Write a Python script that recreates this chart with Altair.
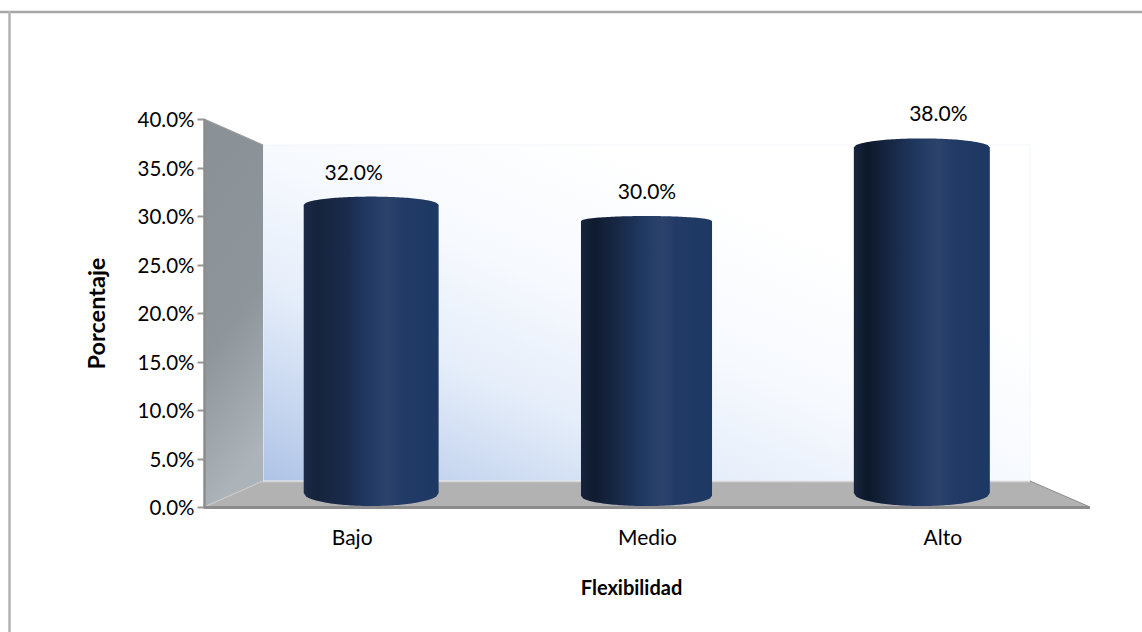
import math
import altair as alt
import pandas as pd

# Survey results
categories = ["Bajo", "Medio", "Alto"]
percentages = [32.0, 30.0, 38.0]
y_ticks = [0, 5, 10, 15, 20, 25, 30, 35, 40]

FONT = "Lato"
W, H = 886, 388
LEFT, TOP = 204, 119

# Category positions along the floor front; the cylinders stand further back,
# so perspective pulls them towards the middle
X_SCALE = alt.Scale(domain=[-0.5, 2.5], range=[0, W])
CYL_SCALE = alt.Scale(domain=[-0.5, 2.5], range=[29.5, 855.5])
Y_SCALE = alt.Scale(domain=[0, 40], range=[H, 0])

# Cylinder proportions, expressed in axis units
half_widths = [0.245, 0.238, 0.247]
cap_drops = [0.85, 0.52, 0.93]
base_edges = [1.45, 1.15, 1.45]
label_nudges = [2, 0, -4]
left_tones = [("#1b2a47", "#16233c"), ("#15233c", "#0f1b2e"), ("#16253f", "#0d1829")]


def cylinder_outline(idx, value, half, cap, edge):
    rows = []
    for k in range(-30, 31):
        u = k / 30
        arc = math.sqrt(max(1 - u * u, 0))
        rows.append({
            "x": idx + u * half,
            "top": value - cap * (1 - arc),
            "bottom": edge - (edge - 0.1) * arc,
        })
    return pd.DataFrame(rows)


def cylinder_fill(edge_tone, dark_tone):
    return alt.Gradient(
        gradient="linear", x1=0, y1=0, x2=1, y2=0,
        stops=[
            alt.GradientStop(color=edge_tone, offset=0),
            alt.GradientStop(color=dark_tone, offset=0.10),
            alt.GradientStop(color="#1a2b4c", offset=0.32),
            alt.GradientStop(color="#213a63", offset=0.48),
            alt.GradientStop(color="#2c426b", offset=0.62),
            alt.GradientStop(color="#213a66", offset=0.74),
            alt.GradientStop(color="#1e3864", offset=1),
        ],
    )


px_x = alt.X("x:Q", scale=None, axis=None)
px_y = alt.Y("y:Q", scale=None, axis=None)
px_y2 = alt.Y2("y2:Q")

# Outer frame, only the top and left edges show
frame_top = alt.Chart(pd.DataFrame({"x": [-LEFT], "x2": [W + 52], "y": [12 - TOP]})).mark_rule(
    color="#a6a6a6", strokeWidth=2.5
).encode(x=px_x, x2="x2:Q", y=px_y)
frame_left = alt.Chart(pd.DataFrame({"x": [9.5 - LEFT], "y": [11 - TOP], "y2": [632 - TOP]})).mark_rule(
    color="#b3b3b3", strokeWidth=2.5
).encode(x=px_x, y=px_y, y2=px_y2)

# Back wall with a soft blue glow in the lower-left corner
back_wall = alt.Chart(pd.DataFrame({"x": [59], "x2": [826], "y": [26], "y2": [362]})).mark_rect(
    fill=alt.Gradient(
        gradient="linear", x1=0, y1=1, x2=1, y2=0,
        stops=[
            alt.GradientStop(color="#aec3e6", offset=0),
            alt.GradientStop(color="#c9d8f0", offset=0.14),
            alt.GradientStop(color="#e6eefa", offset=0.30),
            alt.GradientStop(color="#f6f9fe", offset=0.48),
            alt.GradientStop(color="#ffffff", offset=0.72),
        ],
    ),
    stroke="#f3f5f8",
    strokeWidth=1,
).encode(x=px_x, x2="x2:Q", y=px_y, y2=px_y2)

# Side wall, a slanted panel joining the axis and the back wall
side_wall = alt.Chart(pd.DataFrame({"x": [0, 59], "y": [0, 26], "y2": [H, 362]})).mark_area(
    fill=alt.Gradient(
        gradient="linear", x1=0, y1=0, x2=0.2, y2=1,
        stops=[
            alt.GradientStop(color="#899197", offset=0),
            alt.GradientStop(color="#8e969c", offset=0.6),
            alt.GradientStop(color="#acb4b9", offset=1),
        ],
    ),
).encode(x=px_x, y=alt.Y("y:Q", scale=None, axis=None, stack=None), y2=px_y2)

# Floor of the chart
floor = alt.Chart(pd.DataFrame({"x": [0, 59, 826, 886], "y": [H, 362, 362, H], "y2": [H, H, H, H]})).mark_area(
    color="#b2b2b2"
).encode(x=px_x, y=alt.Y("y:Q", scale=None, axis=None, stack=None), y2=px_y2)
floor_edge = alt.Chart(pd.DataFrame({"x": [59, 0], "y": [362, H]})).mark_line(
    color="#c8cbce", strokeWidth=1.2
).encode(x=px_x, y=px_y, order=alt.Order("y:Q"))
floor_back = alt.Chart(pd.DataFrame({"x": [59], "x2": [826], "y": [362.5]})).mark_rule(
    color="#d6d6d6", strokeWidth=1.5
).encode(x=px_x, x2="x2:Q", y=px_y)
floor_slope = alt.Chart(pd.DataFrame({"x": [826, 886], "y": [362, H]})).mark_line(
    color="#8c8c8c", strokeWidth=1
).encode(x=px_x, y=px_y)
wall_top = alt.Chart(pd.DataFrame({"x": [0, 59], "y": [0, 26]})).mark_line(
    color="#9a9a9a", strokeWidth=1.2
).encode(x=px_x, y=px_y)
base_line = alt.Chart(pd.DataFrame({"x": [0], "x2": [886], "y": [H + 0.5]})).mark_rule(
    color="#8c8c8c", strokeWidth=3
).encode(x=px_x, x2="x2:Q", y=px_y)

# One cylinder per category, its height driven by the percentage
cylinders = []
for i, value in enumerate(percentages):
    outline = cylinder_outline(i, value, half_widths[i], cap_drops[i], base_edges[i])
    cylinders.append(
        alt.Chart(outline).mark_area(fill=cylinder_fill(*left_tones[i])).encode(
            x=alt.X("x:Q", scale=CYL_SCALE, axis=None),
            y=alt.Y("top:Q", scale=Y_SCALE, axis=None, stack=None),
            y2="bottom:Q",
        )
    )

# Value labels above each cylinder
labels = []
for i, value in enumerate(percentages):
    labels.append(
        alt.Chart(pd.DataFrame({"x": [i], "v": [value]}))
        .transform_calculate(t="format(datum.v, '.1f') + '%'")
        .mark_text(
            font=FONT, fontSize=21, color="#000000", baseline="middle", dx=label_nudges[i], dy=-23
        )
        .encode(
            x=alt.X("x:Q", scale=X_SCALE, axis=None),
            y=alt.Y("v:Q", scale=Y_SCALE, axis=None),
            text="t:N",
        )
    )

# Axes carry the tick labels and the two titles
label_expr = "{0: '%s', 1: '%s', 2: '%s'}[datum.value]" % tuple(categories)
axes = alt.Chart(pd.DataFrame({"x": [0, 1, 2], "v": [0, 0, 0]})).mark_point(opacity=0).encode(
    x=alt.X(
        "x:Q",
        scale=X_SCALE,
        axis=alt.Axis(
            values=[0, 1, 2],
            labelExpr=label_expr,
            domain=False,
            ticks=False,
            grid=False,
            labelFont=FONT,
            labelFontSize=21,
            labelColor="#000000",
            labelPadding=20,
            title="Flexibilidad",
            titleFont=FONT,
            titleFontSize=20,
            titleFontWeight="bold",
            titleColor="#000000",
            titleX=427,
            titleY=71,
        ),
    ),
    y=alt.Y(
        "v:Q",
        scale=Y_SCALE,
        axis=alt.Axis(
            values=y_ticks,
            labelExpr="format(datum.value, '.1f') + '%'",
            labelOffset=1.5,
            grid=False,
            domainColor="#8c8c8c",
            domainWidth=2.5,
            tickColor="#979797",
            tickWidth=2,
            tickSize=7,
            labelFont=FONT,
            labelFontSize=20.5,
            labelColor="#000000",
            labelPadding=3,
            title="Porcentaje",
            titleFont=FONT,
            titleFontSize=23.5,
            titleFontWeight="bold",
            titleColor="#000000",
            titleX=-95,
            titleY=194,
            zindex=1,
        ),
    ),
)

chart = (
    alt.layer(
        frame_top, frame_left, back_wall, side_wall, floor, floor_edge, floor_back,
        floor_slope, wall_top, base_line, *cylinders, *labels, axes,
    )
    .resolve_scale(x="independent", y="independent")
    .properties(
        width=W,
        height=H,
        background="#ffffff",
        autosize=alt.AutoSizeParams(type="none"),
        padding={"left": LEFT, "top": TOP, "right": 1142 - LEFT - W, "bottom": 632 - TOP - H},
    )
    .configure_view(stroke="transparent", strokeWidth=0)
)

chart.save("out.html", embed_options={"renderer": "svg", "actions": False})
